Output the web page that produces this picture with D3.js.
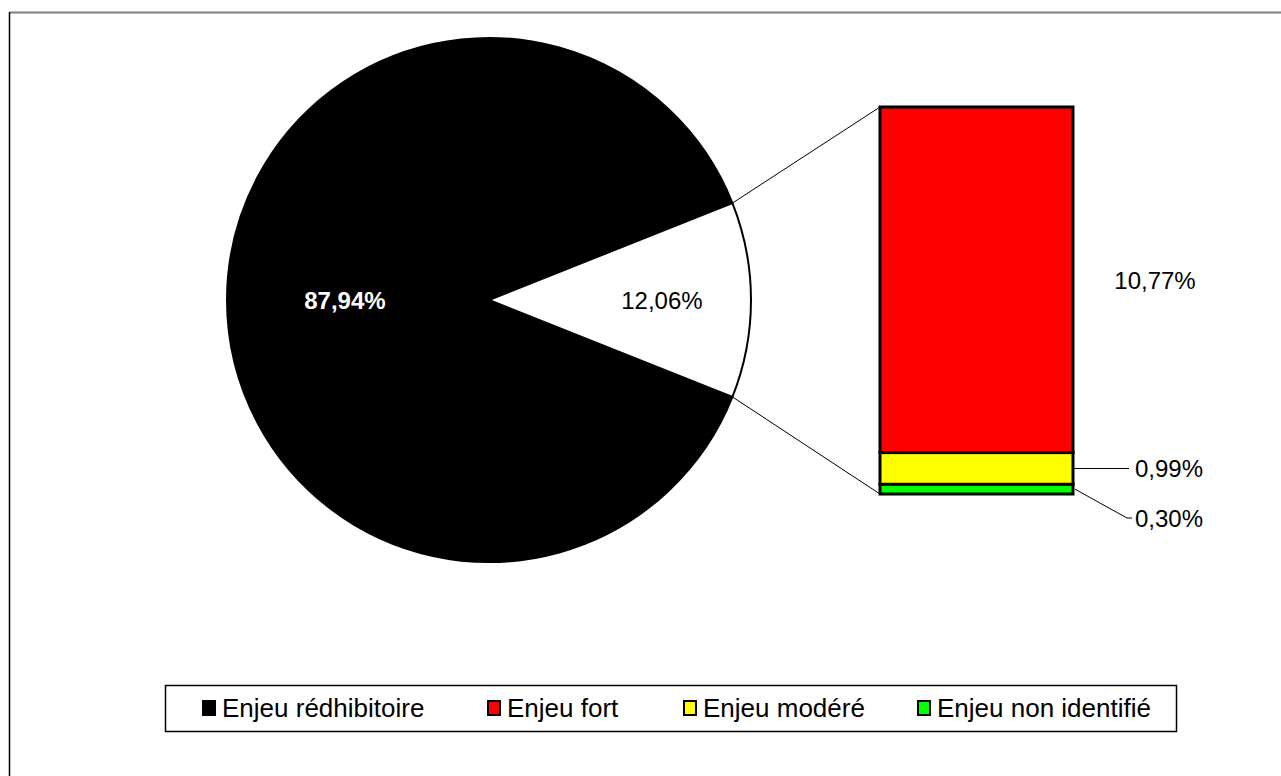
<!DOCTYPE html>
<html>
<head>
<meta charset="utf-8">
<script src="https://cdn.jsdelivr.net/npm/d3@7"></script>
<style>
  html, body { margin: 0; padding: 0; background: #fff; }
  svg { display: block; }
  text { font-family: "Liberation Sans", Arial, sans-serif; }
</style>
</head>
<body>
<svg id="chart" width="1281" height="776"></svg>
<script>
// Pie: share of the whole
const pieLabels = ["Enjeu rédhibitoire", "Autres enjeux"];
const pieValues = [87.94, 12.06];
const pieColors = ["#000000", "#ffffff"];

// Bar: breakdown of the detached slice
const barLabels = ["Enjeu fort", "Enjeu modéré", "Enjeu non identifié"];
const barValues = [10.77, 0.99, 0.30];
const barColors = ["#ff0000", "#ffff00", "#00ff00"];

// Legend entries
const legendLabels = ["Enjeu rédhibitoire", "Enjeu fort", "Enjeu modéré", "Enjeu non identifié"];
const legendColors = ["#000000", "#ff0000", "#ffff00", "#00ff00"];

const fmt = v => v.toFixed(2).replace(".", ",") + "%";

const svg = d3.select("#chart");

// Chart area frame
svg.append("line").attr("x1", 9).attr("y1", 12.5).attr("x2", 1281).attr("y2", 12.5)
  .attr("stroke", "#808080").attr("stroke-width", 2);
svg.append("line").attr("x1", 9.5).attr("y1", 12).attr("x2", 9.5).attr("y2", 776)
  .attr("stroke", "#000").attr("stroke-width", 1.5);

// ---- Pie ----
const cx = 489, cy = 300, R = 262;
const smallAngle = 2 * Math.PI * pieValues[1] / d3.sum(pieValues);
const start = Math.PI / 2 + smallAngle / 2;
const pie = d3.pie().sort(null).startAngle(start).endAngle(start + 2 * Math.PI);
const arcs = pie(pieValues);
const arc = d3.arc().innerRadius(0).outerRadius(R);

const gPie = svg.append("g").attr("transform", `translate(${cx},${cy})`);
gPie.selectAll("path").data(arcs).join("path")
  .attr("d", arc)
  .attr("fill", (d, i) => pieColors[i])
  .attr("stroke", "#000").attr("stroke-width", 2).attr("stroke-linejoin", "round");

// Pie labels
const labelRadius = [R * 0.55, R * 0.66];
gPie.selectAll("text").data(arcs).join("text")
  .attr("transform", (d, i) => {
    const r = labelRadius[i];
    return `translate(${d3.arc().innerRadius(r).outerRadius(r).centroid(d)})`;
  })
  .attr("text-anchor", "middle").attr("dy", "0.36em")
  .attr("font-size", 24)
  .attr("font-weight", (d, i) => i === 0 ? "bold" : "normal")
  .attr("fill", (d, i) => i === 0 ? "#fff" : "#000")
  .text(d => fmt(d.data));

// ---- Bar ----
const barX = 880, barW = 193, barTop = 107, barBottom = 494;
const total = d3.sum(barValues);
const y = d3.scaleLinear().domain([0, total]).range([barBottom, barTop]);
const stackData = [];
let acc = total;
barValues.forEach((v, i) => { stackData.push({ v, i, y0: acc - v, y1: acc }); acc -= v; });

// Connector lines from the detached slice to the bar
const sa = arcs[1].startAngle, ea = arcs[1].endAngle;
const pt = a => [cx + R * Math.sin(a), cy - R * Math.cos(a)];
const pTop = pt(sa), pBot = pt(ea);
svg.append("line").attr("x1", pTop[0]).attr("y1", pTop[1]).attr("x2", barX).attr("y2", y(total))
  .attr("stroke", "#000").attr("stroke-width", 1);
svg.append("line").attr("x1", pBot[0]).attr("y1", pBot[1]).attr("x2", barX).attr("y2", y(0))
  .attr("stroke", "#000").attr("stroke-width", 1);

svg.append("g").selectAll("rect").data(stackData).join("rect")
  .attr("x", barX).attr("width", barW)
  .attr("y", d => y(d.y1)).attr("height", d => y(d.y0) - y(d.y1))
  .attr("fill", d => barColors[d.i])
  .attr("stroke", "#000").attr("stroke-width", 3);

// Bar labels
const barRight = barX + barW;
const midY = d => (y(d.y0) + y(d.y1)) / 2;
// big segment: label alongside
svg.append("text").attr("x", 1155).attr("y", midY(stackData[0]) + 1).attr("dy", "0.36em")
  .attr("text-anchor", "middle").attr("font-size", 24).text(fmt(stackData[0].v));
// small segments: leader lines
const yMod = midY(stackData[1]);
svg.append("line").attr("x1", barRight).attr("y1", yMod).attr("x2", 1129).attr("y2", yMod)
  .attr("stroke", "#000").attr("stroke-width", 1);
svg.append("text").attr("x", 1135).attr("y", yMod).attr("dy", "0.36em")
  .attr("font-size", 24).text(fmt(stackData[1].v));
const yNon = midY(stackData[2]);
svg.append("polyline")
  .attr("points", `${barRight + 2},${yNon} 1127,518 1132,518`)
  .attr("fill", "none").attr("stroke", "#000").attr("stroke-width", 1);
svg.append("text").attr("x", 1135).attr("y", 518).attr("dy", "0.36em")
  .attr("font-size", 24).text(fmt(stackData[2].v));

// ---- Legend ----
const lg = svg.append("g");
lg.append("rect").attr("x", 165.5).attr("y", 685.5).attr("width", 1011).attr("height", 46)
  .attr("fill", "#fff").attr("stroke", "#000").attr("stroke-width", 1.5);
const legendX = [203, 488, 684, 918];
const items = lg.selectAll("g.item").data(legendLabels).join("g").attr("class", "item")
  .attr("transform", (d, i) => `translate(${legendX[i]},708)`);
items.append("rect").attr("x", 0).attr("y", -7).attr("width", 12).attr("height", 14)
  .attr("fill", (d, i) => legendColors[i]).attr("stroke", "#000").attr("stroke-width", 2);
items.append("text").attr("x", 19).attr("y", 0).attr("dy", "0.36em")
  .attr("font-size", 26).text(d => d);
</script>
</body>
</html>
